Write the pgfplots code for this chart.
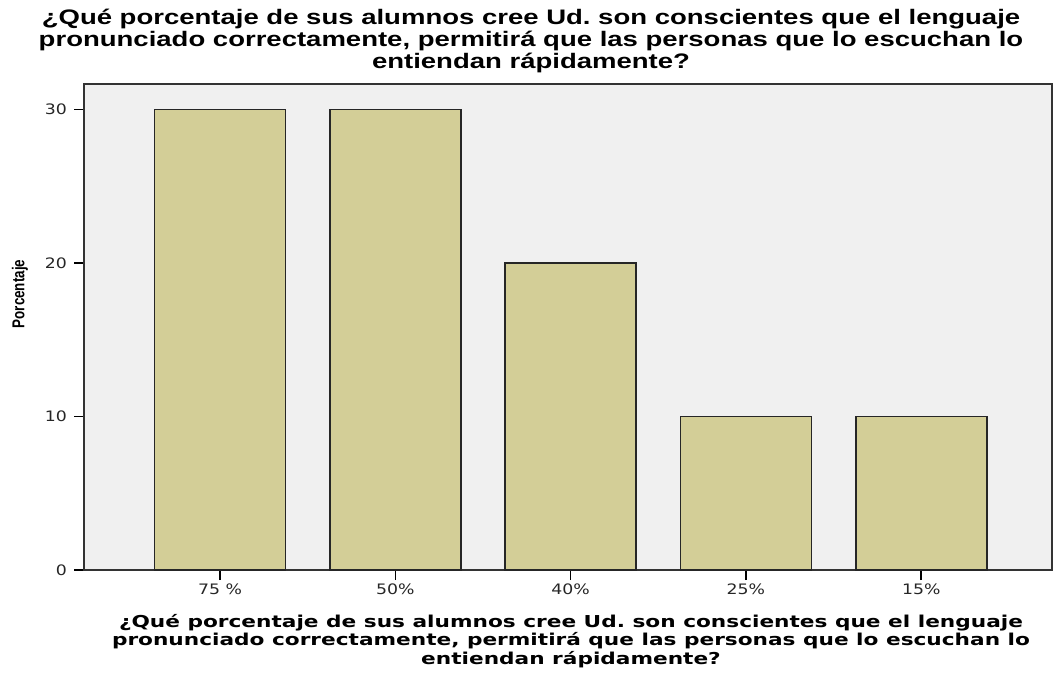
\documentclass[border=0pt]{standalone}
\usepackage{fontspec}
\setmainfont{DejaVu Sans}
\newfontfamily\titlefont[FakeStretch=1.31]{Liberation Sans}
\newfontfamily\ylabfont[FakeStretch=0.78]{Liberation Sans}
\newfontfamily\xlabfont[FakeStretch=1.32]{DejaVu Sans}
\newfontfamily\tickfont[FakeStretch=1.2]{DejaVu Sans}
\usepackage{pgfplots}
\pgfplotsset{compat=1.18}
\definecolor{bgc}{HTML}{F0F0F0}
\definecolor{barc}{HTML}{D3CE97}
\frenchspacing
\begin{document}
\frenchspacing
\begin{tikzpicture}
\path (0pt,0pt) rectangle (527pt,-339pt);
\begin{axis}[
  at={(42pt,-285pt)}, anchor=south west,
  x=87.65pt, y=7.675pt,
  xmin=-0.776, xmax=4.745, ymin=0, ymax=31.66,
  axis background/.style={fill=bgc},
  axis line style={black!80, line width=0.8pt},
  xtick={0,1,2,3,4},
  xticklabels={75 \%,50\%,40\%,25\%,15\%},
  ytick={0,10,20,30},
  tick align=outside,
  major tick length=5pt,
  tick style={black, line width=0.8pt},
  x tick label style={font=\tickfont\fontsize{7.2}{8}\selectfont, color=black!85, yshift=1.5pt},
  y tick label style={font=\tickfont\fontsize{7.2}{8}\selectfont, color=black!85},
  /pgf/number format/assume math mode=true,
  xtick pos=bottom, ytick pos=left,
  ybar, bar width=65.5pt,
  clip=false,
]
\addplot[fill=barc, draw=black!85, line width=0.8pt] coordinates {(0,30) (1,30) (2,20) (3,10) (4,10)};
\end{axis}
\node[align=center, font=\titlefont\bfseries\fontsize{10.5}{10.8}\selectfont] at (265.5pt,-20.5pt) {¿Qué porcentaje de sus alumnos cree Ud. son conscientes que el lenguaje\\pronunciado correctamente, permitirá que las personas que lo escuchan lo\\entiendan rápidamente?};
\node[align=center, font=\xlabfont\bfseries\fontsize{8.2}{6.6}\selectfont] at (285.5pt,-320.5pt) {¿Qué porcentaje de sus alumnos cree Ud. son conscientes que el lenguaje\\pronunciado correctamente, permitirá que las personas que lo escuchan lo\\entiendan rápidamente?};
\node[rotate=90, font=\ylabfont\bfseries\fontsize{8.6}{9}\selectfont] at (10pt,-147pt) {Porcentaje};
\end{tikzpicture}
\end{document}
